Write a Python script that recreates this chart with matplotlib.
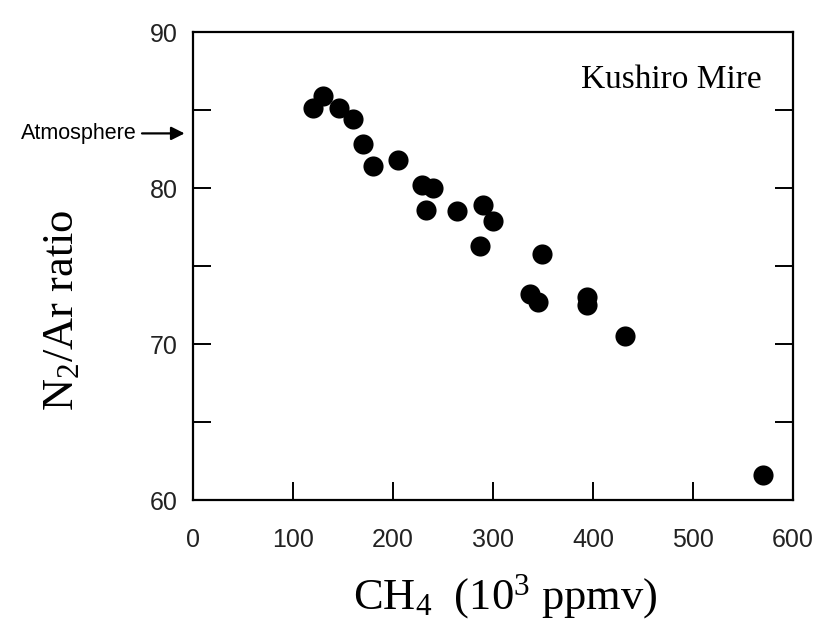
import matplotlib
matplotlib.use("Agg")
import matplotlib.pyplot as plt
from matplotlib.ticker import MultipleLocator

# Data
ch4 = [120, 130, 146, 160, 170, 180, 205, 229, 240, 233, 264, 290, 300, 287,
       349, 337, 345, 394, 394, 432, 570]
n2_ar = [85.1, 85.9, 85.1, 84.4, 82.8, 81.4, 81.8, 80.2, 80.0, 78.6, 78.5, 78.9,
         77.9, 76.3, 75.8, 73.2, 72.7, 73.0, 72.5, 70.5, 61.6]

x_ticks = [0, 100, 200, 300, 400, 500, 600]
y_major = [60, 70, 80, 90]
atm_value = 83.5

plt.rcParams['mathtext.fontset'] = 'custom'
plt.rcParams['mathtext.rm'] = 'Liberation Serif'
plt.rcParams['mathtext.it'] = 'Liberation Serif:italic'

fig = plt.figure(figsize=(8.17, 6.32), dpi=100)
ax = fig.add_axes([193/817, 1-500/632, 600/817, 468/632])

ax.scatter(ch4, n2_ar, s=210, c='black', marker='o', linewidths=0, zorder=3)

ax.set_xlim(0, 600)
ax.set_ylim(60, 90)
ax.set_xticks(x_ticks)
ax.set_yticks(y_major)
ax.yaxis.set_minor_locator(MultipleLocator(5))

for s in ax.spines.values():
    s.set_linewidth(1.6)

ax.tick_params(axis='x', which='both', direction='in', length=13, width=1.4,
               top=False, bottom=True, pad=20, labelsize=18, labelcolor='#222222')
ax.tick_params(axis='y', which='both', direction='in', length=13, width=1.4,
               left=True, right=True, pad=11, labelsize=18, labelcolor='#222222')
for lab in ax.get_xticklabels() + ax.get_yticklabels():
    lab.set_fontfamily('Liberation Sans')

fig.text(505/817, 1-597/632, r'CH$_4$  (10$^3$ ppmv)', ha='center', va='center',
         fontsize=32, family='Liberation Serif')
fig.text(62/817, 1-310/632, r'N$_2$/Ar ratio', ha='center', va='center',
         rotation=90, fontsize=32, family='Liberation Serif')

ax.text(0.947, 0.897, 'Kushiro Mire', transform=ax.transAxes, ha='right', va='center',
        fontsize=24, family='Liberation Serif')

ax.annotate('', xy=(-0.014, atm_value), xytext=(-0.085, atm_value),
            xycoords=('axes fraction', 'data'), textcoords=('axes fraction', 'data'),
            arrowprops=dict(arrowstyle='-|>', color='black', lw=1.6,
                            mutation_scale=20, shrinkA=0, shrinkB=0),
            annotation_clip=False)
ax.text(-0.093, atm_value, 'Atmosphere', transform=ax.get_yaxis_transform(),
        ha='right', va='center', fontsize=15.5, family='Liberation Sans')

fig.savefig('out.png', dpi=100)
